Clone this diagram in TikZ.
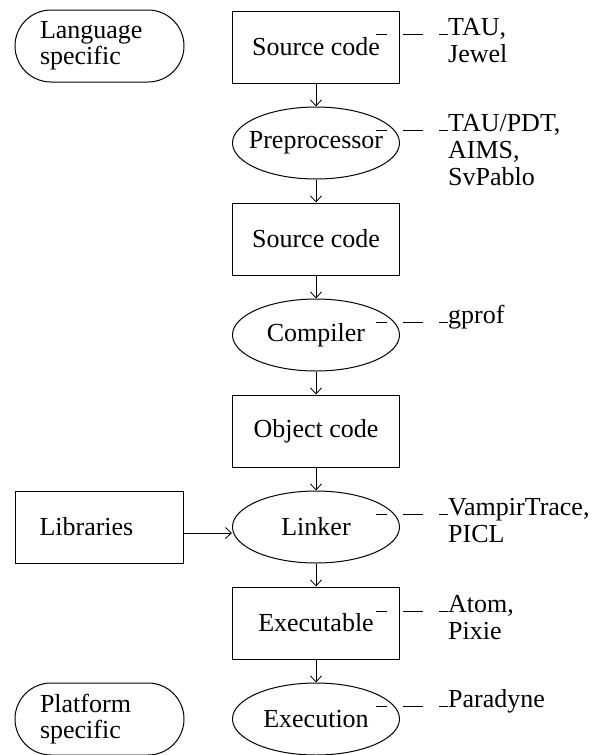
\documentclass[tikz,border=0pt]{standalone}
\usepackage{fontspec}
\setmainfont{Liberation Serif}
\usetikzlibrary{shapes.geometric,arrows.meta,calc}
\begin{document}
\begin{tikzpicture}[x=1pt,y=-1pt,
  every node/.style={font={\fontsize{26}{26}\selectfont}, inner sep=0pt},
  box/.style={draw, line width=1pt, minimum width=167pt, minimum height=72pt},
  oval/.style={draw, ellipse, line width=1pt, minimum width=167pt, minimum height=72pt},
  pill/.style={draw, line width=1pt, rounded corners=36pt, minimum width=169pt, minimum height=72pt, text width=119pt, align=left},
  leftbox/.style={box, minimum width=168pt, text width=119pt, align=left},
  tool/.style={anchor=base west, align=left, font={\fontsize{26}{27}\selectfont}},
  flow/.style={line width=0.8pt, -{Straight Barb[length=6pt,width=11pt]}},
  hook/.style={line width=1pt, dash pattern=on 20pt off 16pt, dash phase=9pt}
]
\useasboundingbox (0,0) rectangle (598,755);

\node[pill] (lang) at (99.5,46) {Language\\specific};
\node[box] (src1) at (316,47) {Source code};
\node[oval] (pre) at (316,143) {\makebox[0pt]{Preprocessor}};
\node[box] (src2) at (316,239) {Source code};
\node[oval] (comp) at (316,335) {Compiler};
\node[box] (obj) at (316,431) {Object code};
\node[oval] (link) at (316,527) {Linker};
\node[leftbox] (lib) at (99,527) {Libraries};
\node[box] (exe) at (316,623) {Executable};
\node[oval] (run) at (316,719) {Execution};
\node[pill] (plat) at (99.5,719) {Platform\\specific};

% anchors are at the baseline of the last line
\node[tool] (t1) at (448,62) {TAU,\\Jewel};
\node[tool] (t2) at (448,185) {TAU/PDT,\\AIMS,\\SvPablo};
\node[tool] (t3) at (448,323) {gprof};
\node[tool] (t4) at (448,542) {VampirTrace,\\PICL};
\node[tool] (t5) at (448,639) {Atom,\\Pixie};
\node[tool] (t6) at (448,707) {Paradyne};

\draw[flow] (src1) -- (pre);
\draw[flow] (pre) -- (src2);
\draw[flow] (src2) -- (comp);
\draw[flow] (comp) -- (obj);
\draw[flow] (obj) -- (link);
\draw[flow] (link) -- (exe);
\draw[flow] (exe) -- (run);
\draw[flow] ([yshift=-6pt]lib.east) -- ([yshift=-6pt]link.west);

\draw[hook] ($(src1.east |- t1.base)+(-24,-28)$) -- ($(t1.base west)+(0,-28)$);
\draw[hook] ($(pre.east |- t2.base)+(-24,-55)$) -- ($(t2.base west)+(0,-55)$);
\draw[hook] ($(comp.east |- t3.base)+(-24,-1)$) -- ($(t3.base west)+(0,-1)$);
\draw[hook] ($(link.east |- t4.base)+(-24,-28)$) -- ($(t4.base west)+(0,-28)$);
\draw[hook] ($(exe.east |- t5.base)+(-24,-28)$) -- ($(t5.base west)+(0,-28)$);
\draw[hook] ($(run.east |- t6.base)+(-24,-1)$) -- ($(t6.base west)+(0,-1)$);
\end{tikzpicture}
\end{document}
